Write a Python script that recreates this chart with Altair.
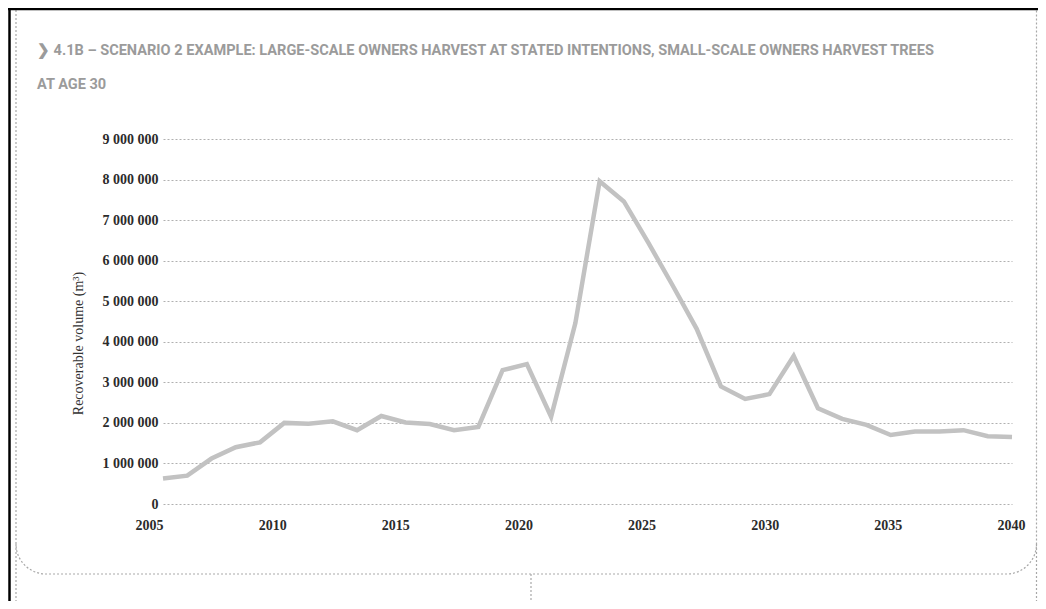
import altair as alt
import pandas as pd

# ---- data ----
years = list(range(2005, 2041))
volume = [
    630000, 700000, 1120000, 1400000, 1520000, 2000000, 1980000, 2040000, 1820000, 2170000,
    2010000, 1970000, 1820000, 1900000, 3300000, 3450000, 2150000, 4460000, 7960000, 7460000,
    6450000, 5400000, 4320000, 2900000, 2590000, 2710000, 3650000, 2360000, 2100000, 1950000,
    1700000, 1790000, 1790000, 1820000, 1670000, 1650000,
]
y_ticks = [0, 1000000, 2000000, 3000000, 4000000, 5000000, 6000000, 7000000, 8000000, 9000000]
x_ticks = [2005, 2010, 2015, 2020, 2025, 2030, 2035, 2040]
title_lines = [
    "❯ 4.1B – SCENARIO 2 EXAMPLE: LARGE-SCALE OWNERS HARVEST AT STATED INTENTIONS, SMALL-SCALE OWNERS HARVEST TREES",
    "AT AGE 30",
]
y_title = "Recoverable volume (m³)"

df = pd.DataFrame({"year": years, "volume": volume})

W, H = 849, 365
PAD = {"left": 155, "top": 131, "right": 26, "bottom": 97}

line = alt.Chart(df).mark_line(color="#c2c2c2", strokeWidth=4.5).encode(
    x=alt.X(
        "year:Q",
        scale=alt.Scale(domain=[2005, 2040], nice=False, zero=False),
        axis=alt.Axis(
            values=x_ticks, format="d", title=None, grid=False, ticks=False, domain=False,
            labelPadding=14, labelFlush=False,
            labelOffset={"expr": "-14 + 13 * (datum.value - 2005) / 35"},
        ),
    ),
    y=alt.Y(
        "volume:Q",
        scale=alt.Scale(domain=[0, 9000000], nice=False),
        axis=alt.Axis(
            values=y_ticks, title=y_title, grid=True, ticks=False, domain=False,
            labelPadding=5, labelFlush=False,
            labelExpr="replace(replace(format(datum.value, ','), ',', ' '), ',', ' ')",
            titleX=-85, titleY=204, titleAlign="center", titleBaseline="middle",
            titleFont="Liberation Serif", titleFontSize=14, titleFontWeight="normal",
            titleColor="#333333",
        ),
    ),
)

frame_color = "#a8a8a8"
box = alt.Chart().mark_rect(
    fill=None, stroke=frame_color, strokeWidth=1.2, strokeDash=[2, 2],
    cornerRadiusBottomLeft=30, cornerRadiusBottomRight=30,
).encode(x=alt.value(-147), x2=alt.value(873.5), y=alt.value(-140), y2=alt.value(435))

def vrule(xv, y0, y1, color=frame_color, width=1.2, dash=True):
    kw = dict(color=color, strokeWidth=width)
    if dash:
        kw["strokeDash"] = [2, 2]
    return alt.Chart().mark_rule(**kw).encode(
        x=alt.value(xv), y=alt.value(y0), y2=alt.value(y1)
    )

left_ext = vrule(-147, 405, 470)
right_ext = vrule(873.5, 405, 470)
mid_ext = vrule(368, 435, 470)
black_left = vrule(-153.5, -135, 470, color="#000000", width=2.5, dash=False)
black_top = alt.Chart().mark_rule(color="#000000", strokeWidth=2.5).encode(
    x=alt.value(-155), x2=alt.value(900), y=alt.value(-130)
)

title_style = dict(
    align="left", baseline="alphabetic", font="Roboto",
    fontSize=14.55, fontWeight="bold", color="#9b9b9b",
)
t1 = alt.Chart().mark_text(**title_style).encode(
    x=alt.value(-126), y=alt.value(-84), text=alt.value(title_lines[0])
)
t2 = alt.Chart().mark_text(**title_style).encode(
    x=alt.value(-126), y=alt.value(-50), text=alt.value(title_lines[1])
)

chart = alt.layer(
    box, left_ext, right_ext, mid_ext, black_left, black_top, t1, t2, line
).properties(
    width=W, height=H, padding=PAD,
    autosize=alt.AutoSizeParams(type="none"),
    background="white",
).configure_view(stroke=None).configure_axis(
    labelFont="Liberation Serif", labelFontSize=14, labelFontWeight="bold",
    labelColor="#2b2b2b", gridColor="#b0b0b0", gridDash=[2, 2], gridWidth=1,
)

chart.save("out.html", embed_options={"renderer": "svg", "actions": False})
